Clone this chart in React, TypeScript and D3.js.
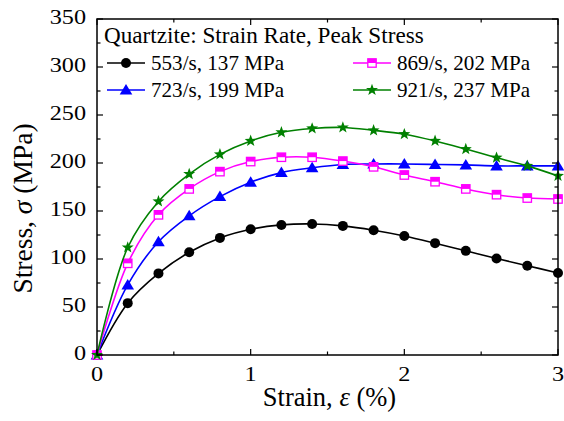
import React from "react";
import * as d3 from "d3";

const strain = [0, 0.2, 0.4, 0.6, 0.8, 1.0, 1.2, 1.4, 1.6, 1.8, 2.0, 2.2, 2.4, 2.6, 2.8, 3.0];
const s553 = [0, 54, 85, 107, 122, 131, 135.5, 136.5, 134.5, 130, 124, 116.5, 108.5, 100.5, 93, 85.5];
const s723 = [0, 73, 118, 145, 165, 180, 190, 195, 198.5, 199, 199, 198.5, 198, 197, 197, 197];
const s869 = [0, 95.5, 146, 173, 191, 201.5, 206, 206, 202, 196, 187.5, 180.5, 173, 167, 163.5, 162.5];
const s921 = [0, 112, 160, 188.5, 209, 223, 232, 236, 237, 234, 230, 223, 214.5, 205.5, 197, 186.5];
const seriesNames = ["553/s, 137 MPa", "723/s, 199 MPa", "869/s, 202 MPa", "921/s, 237 MPa"];
const legendTitle = "Quartzite: Strain Rate, Peak Stress";
const xTicks = [0, 1, 2, 3];
const yTicks = [0, 50, 100, 150, 200, 250, 300, 350];

const W = 564, H = 421;
const L = 97, R = 558, T = 19, B = 355;
const FONT = '"Liberation Serif", "Times New Roman", Times, serif';

function Txt({ x, y, sx = 1, size, anchor = "start", rotate = 0, children }: any) {
  return (
    <g transform={`translate(${x},${y}) rotate(${rotate}) scale(${sx},1)`}>
      <text x={0} y={0} fontSize={size} textAnchor={anchor} style={{ fontFamily: FONT }}>
        {children}
      </text>
    </g>
  );
}

function Marker({ kind, x, y, color }: { kind: string; x: number; y: number; color: string }) {
  if (kind === "circle") return <circle cx={x} cy={y} r={5} fill={color} />;
  if (kind === "triangle") {
    const s = 6;
    return <path d={`M${x},${y - s}L${x + s * 1.05},${y + s * 0.75}L${x - s * 1.05},${y + s * 0.75}Z`} fill={color} />;
  }
  if (kind === "square") {
    const h = 4.2;
    return (
      <g>
        <rect x={x - h} y={y - h} width={2 * h} height={2 * h} fill="white" stroke={color} strokeWidth={1.3} />
        <rect x={x - h} y={y - h} width={2 * h} height={h} fill={color} />
      </g>
    );
  }
  const pts: string[] = [];
  const ro = 6.3, ri = 2.6;
  for (let i = 0; i < 10; i++) {
    const a = -Math.PI / 2 + (i * Math.PI) / 5;
    const r = i % 2 === 0 ? ro : ri;
    pts.push(`${x + r * Math.cos(a)},${y + r * Math.sin(a)}`);
  }
  return <polygon points={pts.join(" ")} fill={color} />;
}

export default function App() {
  const x = d3.scaleLinear().domain([0, 3]).range([L, R]);
  const y = d3.scaleLinear().domain([0, 350]).range([B, T]);
  const series = [
    { vals: s553, color: "#000000", kind: "circle", name: seriesNames[0] },
    { vals: s723, color: "#0000ff", kind: "triangle", name: seriesNames[1] },
    { vals: s869, color: "#ff00ff", kind: "square", name: seriesNames[2] },
    { vals: s921, color: "#008000", kind: "star", name: seriesNames[3] },
  ];
  const line = d3
    .line<number>()
    .x((_, i) => x(strain[i]))
    .y((d) => y(d))
    .curve(d3.curveCatmullRom.alpha(0.5));

  const xMinor = d3.range(0, 3.01, 0.5);
  const yMinor = d3.range(0, 351, 25);

  const legend = [
    { s: series[0], lx: 107, ly: 63 },
    { s: series[1], lx: 107, ly: 90 },
    { s: series[2], lx: 353, ly: 63 },
    { s: series[3], lx: 353, ly: 90 },
  ];

  return (
    <svg width={W} height={H} style={{ position: "absolute", left: 0, top: 0 }}>
      <rect width={W} height={H} fill="white" />
      {series.map((s, k) => (
        <g key={k}>
          <path d={line(s.vals) || ""} fill="none" stroke={s.color} strokeWidth={1.6} />
          {s.vals.map((v, i) => (
            <Marker key={i} kind={s.kind} x={x(strain[i])} y={y(v)} color={s.color} />
          ))}
        </g>
      ))}
      <rect x={L} y={T} width={R - L} height={B - T} fill="none" stroke="black" strokeWidth={1.5} />
      {xMinor.map((t, i) => {
        const major = Math.abs(t - Math.round(t)) < 1e-6;
        const len = major ? 6 : 3.5;
        return (
          <g key={i} stroke="black" strokeWidth={1.2}>
            <line x1={x(t)} x2={x(t)} y1={B} y2={B - len} />
            <line x1={x(t)} x2={x(t)} y1={T} y2={T + len} />
          </g>
        );
      })}
      {yMinor.map((t, i) => {
        const major = t % 50 === 0;
        const len = major ? 6 : 3.5;
        return (
          <g key={i} stroke="black" strokeWidth={1.2}>
            <line x1={L} x2={L + len} y1={y(t)} y2={y(t)} />
            <line x1={R} x2={R - len} y1={y(t)} y2={y(t)} />
          </g>
        );
      })}
      {xTicks.map((t) => (
        <Txt key={t} x={x(t)} y={381} size={22} sx={1.1} anchor="middle">
          {t}
        </Txt>
      ))}
      {yTicks.map((t) => (
        <Txt key={t} x={86} y={y(t) + 5.3} size={22} sx={1.1} anchor="end">
          {t}
        </Txt>
      ))}
      <Txt x={(L + R) / 2 + 2} y={406} size={26.5} anchor="middle">
        Strain, <tspan fontStyle="italic">ε</tspan> (%)
      </Txt>
      <Txt x={32} y={208.5} size={27.5} anchor="middle" rotate={-90}>
        Stress, <tspan fontStyle="italic">σ</tspan> (MPa)
      </Txt>
      <Txt x={104} y={42.5} size={22.5} sx={1.03}>
        {legendTitle}
      </Txt>
      {legend.map((l, i) => (
        <g key={i}>
          <line x1={l.lx} x2={l.lx + 38} y1={l.ly} y2={l.ly} stroke={l.s.color} strokeWidth={1.6} />
          <Marker kind={l.s.kind} x={l.lx + 19} y={l.ly} color={l.s.color} />
          <Txt x={l.lx + 44} y={l.ly + 6.5} size={20.5} sx={1.03}>
            {l.s.name}
          </Txt>
        </g>
      ))}
    </svg>
  );
}
